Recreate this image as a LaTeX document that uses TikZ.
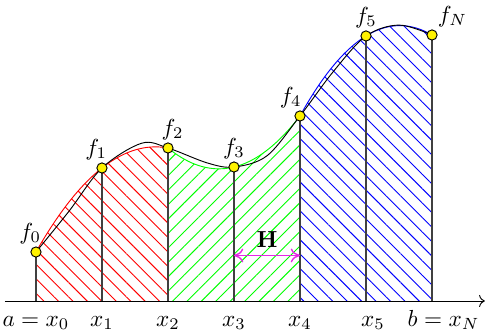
\documentclass[tikz,border=0pt]{standalone}
\usetikzlibrary{patterns.meta,arrows.meta}
\definecolor{hmag}{RGB}{230,40,230}
\tikzset{
  pt/.style={circle,draw=black,fill=yellow,inner sep=0pt,minimum size=4.4pt,thin},
  hatchred/.style={pattern={Lines[angle=-45,distance=4.4pt,line width=0.4pt]},pattern color=red},
  hatchgreen/.style={pattern={Lines[angle=45,distance=4.4pt,line width=0.4pt]},pattern color=green},
  hatchblue/.style={pattern={Lines[angle=-45,distance=4.4pt,line width=0.4pt]},pattern color=blue},
}
\begin{document}
\begin{tikzpicture}
    \useasboundingbox (-0.545,-0.43) rectangle (6.848,4.56);
    % hatched Simpson strips
    \fill[hatchred] (0,0) -- plot[domain=0:2,samples=40] (\x,{-0.485*\x*\x+1.758*\x+0.742}) -- (2,0) -- cycle;
    \fill[hatchgreen] (2,0) -- plot[domain=2:4,samples=40] (\x,{0.5305*(\x-2)*(\x-2)-0.8185*(\x-2)+2.318}) -- (4,0) -- cycle;
    \fill[hatchblue] (4,0) -- plot[domain=4:6,samples=40] (\x,{-0.5985*(\x-4)*(\x-4)+1.8105*(\x-4)+2.803}) -- (6,0) -- cycle;
    \draw[red] plot[domain=0:2,samples=40] (\x,{-0.485*\x*\x+1.758*\x+0.742});
    \draw[green] plot[domain=2:4,samples=40] (\x,{0.5305*(\x-2)*(\x-2)-0.8185*(\x-2)+2.318});
    \draw[blue] plot[domain=4:6,samples=40] (\x,{-0.5985*(\x-4)*(\x-4)+1.8105*(\x-4)+2.803});
    % the function
    \draw[thin] plot[smooth,tension=0.55] coordinates {(0,0.742) (0.5,1.36) (1,2.015) (1.6,2.39) (2,2.318) (2.6,2.09) (3,2.03) (3.5,2.2) (4,2.803) (4.5,3.47) (5,4.015) (5.5,4.18) (6,4.03)};
    % axis
    \draw[->] (-0.47,0) -- (6.8,0);
    % nodes
    \coordinate (x0) at (0,0);
    \coordinate (x1) at (1,0);
    \coordinate (x2) at (2,0);
    \coordinate (x3) at (3,0);
    \coordinate (x4) at (4,0);
    \coordinate (x5) at (5,0);
    \coordinate (xN) at (6,0);
    \coordinate (f0) at (0,0.742);
    \coordinate (f1) at (1,2.015);
    \coordinate (f2) at (2,2.318);
    \coordinate (f3) at (3,2.030);
    \coordinate (f4) at (4,2.803);
    \coordinate (f5) at (5,4.015);
    \coordinate (fN) at (6,4.030);
    \foreach \i in {0,1,2,3,4,5,N}
        \draw[black!75,semithick] (x\i) -- (f\i);
    \foreach \i in {0,1,2,3,4,5,N}
        \node[pt] at (f\i) {};
    \node[above,xshift=-2.5pt] at (f0) {$f_0$};
    \node[above,xshift=-2.5pt] at (f1) {$f_1$};
    \node[above,xshift=2pt] at (f2) {$f_2$};
    \node[above] at (f3) {$f_3$};
    \node[above,xshift=-4pt] at (f4) {$f_4$};
    \node[above] at (f5) {$f_5$};
    \node[above right,xshift=-1pt] at (fN) {$f_N$};
    \node[anchor=base] (lx0) at (0,-0.38) {$a=x_0$};
    \node[anchor=base] (lx1) at (1,-0.38) {$x_1$};
    \node[anchor=base] (lx2) at (2,-0.38) {$x_2$};
    \node[anchor=base] (lx3) at (3,-0.38) {$x_3$};
    \node[anchor=base] (lx4) at (4,-0.38) {$x_4$};
    \node[anchor=base,xshift=3pt] (lx5) at (5,-0.38) {$x_5$};
    \node[anchor=base,xshift=5pt] (lxN) at (6,-0.38) {$b=x_N$};
    % step width
    \coordinate (h3) at (3,0.69);
    \coordinate (h4) at (4,0.69);
    \draw[hmag,semithick,{To[length=4pt,width=6pt]}-{To[length=4pt,width=6pt]}] (h3) -- (h4) node[midway,above,black] {\textbf{H}};
\end{tikzpicture}
\end{document}
